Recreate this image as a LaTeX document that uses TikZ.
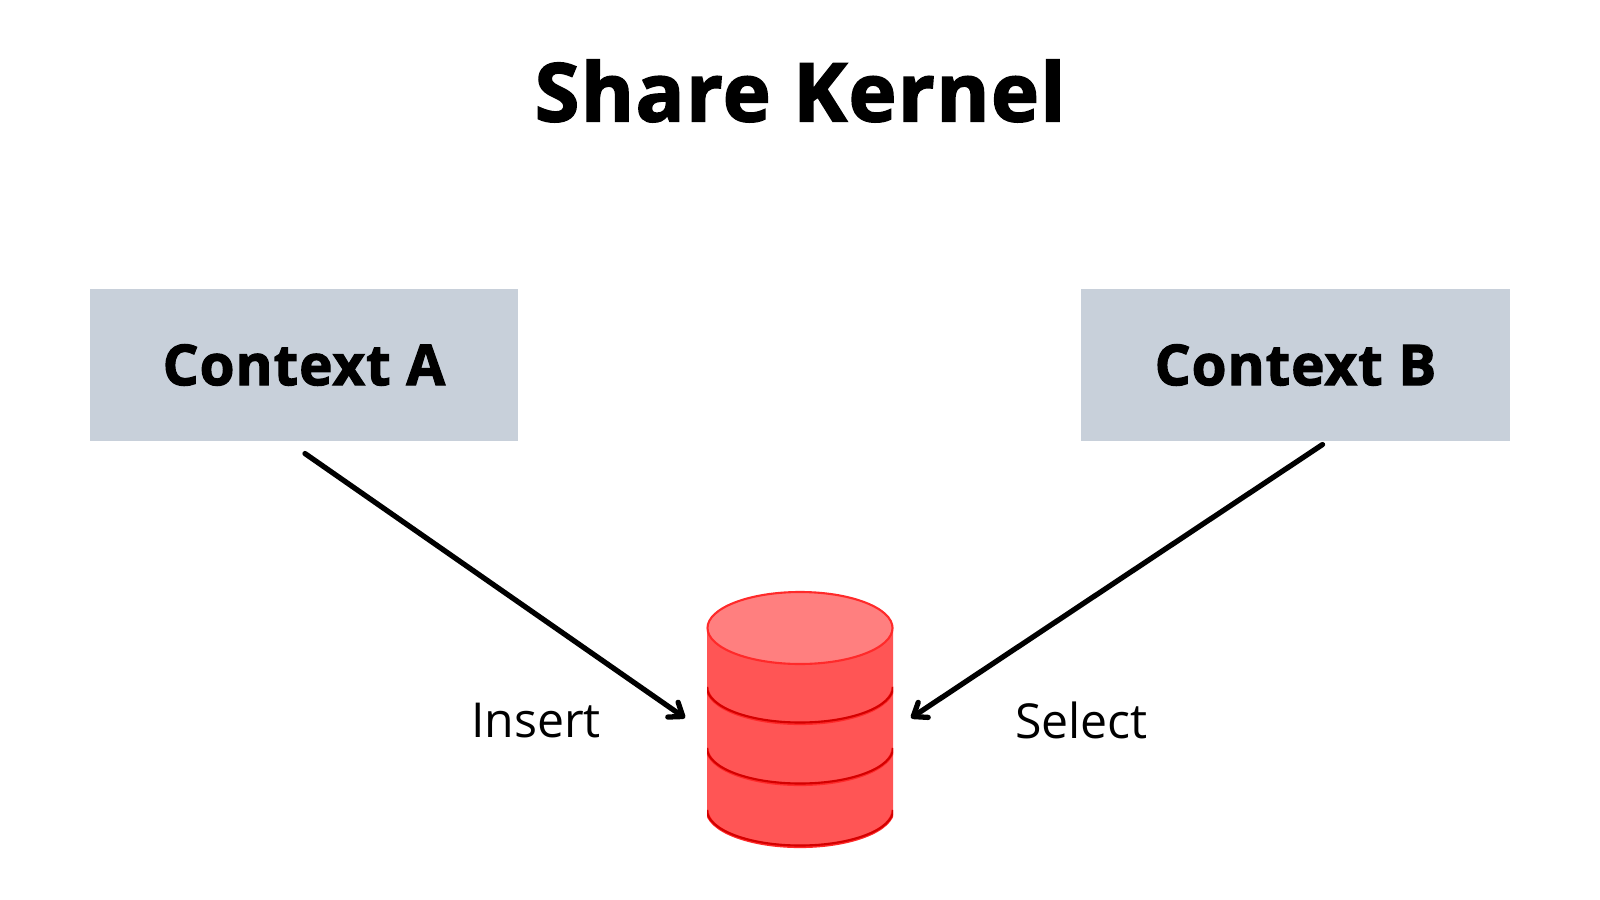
\documentclass[tikz,border=0pt]{standalone}
\usepackage{fontspec}
\setmainfont{Open Sans}
\newfontfamily\heavyfont[BoldFeatures={FakeBold=2.2,LetterSpace=2}]{Open Sans}
\usetikzlibrary{arrows.meta}
\definecolor{boxgray}{HTML}{C8D0DA}
\definecolor{dbside}{HTML}{FF5555}
\definecolor{dbtop}{HTML}{FF7F7F}
\definecolor{dbrim}{HTML}{FF2A2A}
\definecolor{dbdark}{HTML}{D40000}
\newcommand{\dblayer}[1]{%
    \fill[dbside] (707,#1) arc[start angle=180,end angle=0,x radius=93,y radius=36] -- (893,#1-62) -- (707,#1-62) -- cycle;
    \begin{scope}
    \clip (707,#1-5) rectangle (893,#1+45);
    \draw[dbrim,line width=0.9pt] (707,#1) arc[start angle=180,end angle=0,x radius=93,y radius=36.5];
    \draw[dbdark,line width=0.6pt] (707,#1) arc[start angle=180,end angle=0,x radius=93,y radius=35.5];
    \end{scope}}
\begin{document}
\begin{tikzpicture}[x=0.01cm,y=-0.01cm,
    context/.style = {rectangle,fill=boxgray,minimum width=4.28cm,minimum height=1.51cm,outer sep=0mm,font=\fontsize{16}{18}\selectfont\heavyfont\bfseries},
    flow/.style = {draw=black,line width=1.5pt,line cap=round,-{Straight Barb[length=1.2mm,width=1.8mm,round]}},
    oplabel/.style = {font=\fontsize{13.7}{16}\selectfont}]
\useasboundingbox (0,0) rectangle (1600,900);
\node[font=\fontsize{23}{28}\selectfont\heavyfont\bfseries] (title) at (800,91) {Share Kernel};
\node[context] (ctxa) at (304,365) {Context A};
\node[context] (ctxb) at (1295.5,365) {Context B};
% cylinder
\dblayer{810}
\dblayer{748}
\dblayer{687}
\draw[dbrim,fill=dbtop,line width=0.6pt] (800,628) ellipse [x radius=92.5,y radius=36];
\coordinate (dbleft) at (685,718);
\coordinate (dbright) at (911,718);
\node[oplabel] (insert) at (536,721) {Insert};
\node[oplabel] (select) at (1081.5,720.5) {Select};
\draw[flow] ([xshift=0.01cm,yshift=-0.13cm]ctxa.south) -- (dbleft);
\draw[flow] ([xshift=0.27cm,yshift=-0.04cm]ctxb.south) -- (dbright);
\end{tikzpicture}
\end{document}
